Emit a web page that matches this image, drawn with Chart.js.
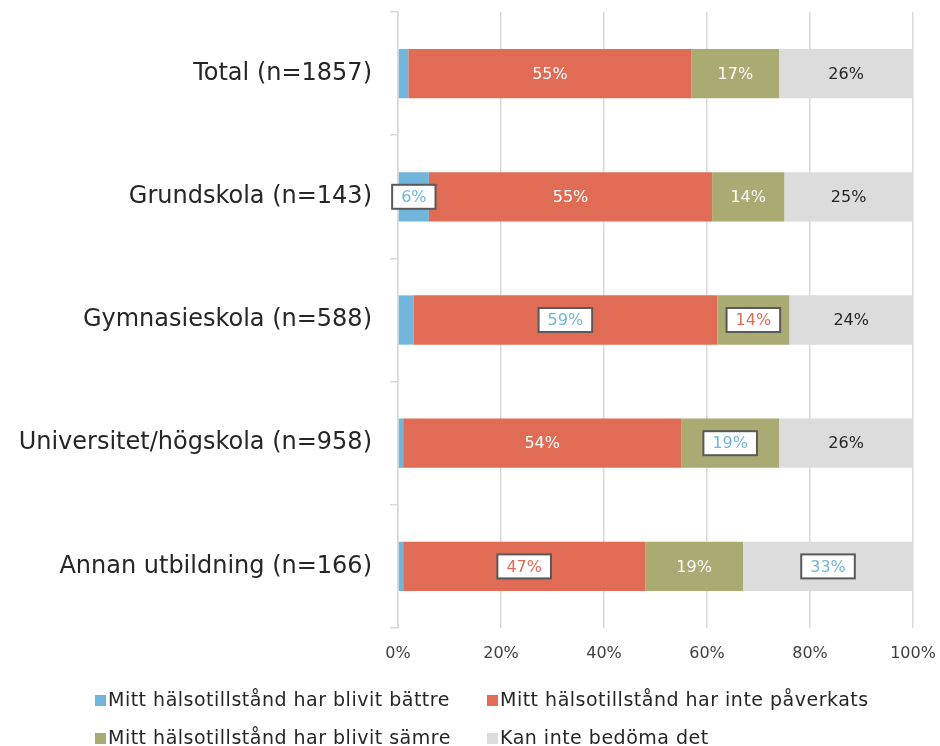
<!DOCTYPE html>
<html lang="sv">
<head>
<meta charset="utf-8">
<title>Hälsotillstånd per utbildning</title>
<script src="https://cdn.jsdelivr.net/npm/chart.js@4.4.1/dist/chart.umd.min.js"></script>
<style>
  html, body { margin: 0; padding: 0; background: #fff; }
  #wrap { width: 940px; height: 746px; position: relative; }
</style>
</head>
<body>
<div id="wrap"><canvas id="halsaChart"></canvas></div>
<script>
// --- Data ---
const categories = [
    'Total (n=1857)',
    'Grundskola (n=143)',
    'Gymnasieskola (n=588)',
    'Universitet/högskola (n=958)',
    'Annan utbildning (n=166)'
];
const seriesNames = [
    'Mitt hälsotillstånd har blivit bättre',
    'Mitt hälsotillstånd har inte påverkats',
    'Mitt hälsotillstånd har blivit sämre',
    'Kan inte bedöma det'
];
const battre = [2, 6, 3, 1, 1];
const intePaverkats = [55, 55, 59, 54, 47];
const samre = [17, 14, 14, 19, 19];
const kanInteBedoma = [26, 25, 24, 26, 33];
const xTicks = [0, 20, 40, 60, 80, 100];

// --- Stil ---
const FONT = '"DejaVu Sans", sans-serif';
const colors = ['#71B5DA', '#E06C56', '#AAAA73', '#DCDCDC'];
// etiketter med vit ruta (färg på texten), per serie och kategori
const BLUE_TXT = '#71B5DA', RED_TXT = '#E06C56';
const boxedLabels = [
    [null, BLUE_TXT, null, null, null],
    [null, null, BLUE_TXT, null, RED_TXT],
    [null, null, RED_TXT, BLUE_TXT, null],
    [null, null, null, null, BLUE_TXT]
];

const segmentLabels = {
    id: 'segmentLabels',
    afterDatasetsDraw(chart) {
        const ctx = chart.ctx;
        ctx.save();
        ctx.font = '16px ' + FONT;
        ctx.textAlign = 'center';
        ctx.textBaseline = 'middle';
        chart.data.datasets.forEach((ds, di) => {
            chart.getDatasetMeta(di).data.forEach((bar, i) => {
                const box = boxedLabels[di][i];
                if (di === 0 && !box) return; // små blå segment utan etikett
                const txt = ds.data[i] + '%';
                const x = (bar.x + bar.base) / 2;
                const y = bar.y;
                if (box) {
                    const w = ctx.measureText(txt).width + 18;
                    const h = 24;
                    ctx.fillStyle = '#fff';
                    ctx.fillRect(x - w / 2, y - h / 2, w, h);
                    ctx.strokeStyle = '#595959';
                    ctx.lineWidth = 2;
                    ctx.strokeRect(x - w / 2, y - h / 2, w, h);
                    ctx.fillStyle = box;
                } else {
                    ctx.fillStyle = di === 3 ? '#262626' : '#ffffff';
                }
                ctx.fillText(txt, x, y + 1);
            });
        });
        ctx.restore();
    }
};

// Legend i två kolumner, ritad för hand
const gridLegend = {
    id: 'gridLegend',
    afterDraw(chart) {
        const ctx = chart.ctx;
        const cols = [95, 487];
        const rows = [700, 738];
        ctx.save();
        ctx.font = '19px ' + FONT;
        ctx.letterSpacing = '0.5px';
        ctx.textBaseline = 'middle';
        chart.data.datasets.forEach((ds, i) => {
            const x = cols[i % 2];
            const y = rows[Math.floor(i / 2)];
            ctx.fillStyle = ds.backgroundColor;
            ctx.fillRect(x, y - 5, 11, 11);
            ctx.fillStyle = '#262626';
            ctx.fillText(ds.label, x + 13, y + 1);
        });
        ctx.restore();
    }
};

const seriesData = [battre, intePaverkats, samre, kanInteBedoma];

new Chart(document.getElementById('halsaChart'), {
    type: 'bar',
    data: {
        labels: categories,
        datasets: seriesData.map((d, i) => ({
            label: seriesNames[i],
            data: d,
            backgroundColor: colors[i],
            borderWidth: 0,
            barPercentage: 0.4,
            categoryPercentage: 1
        }))
    },
    options: {
        indexAxis: 'y',
        responsive: true,
        maintainAspectRatio: false,
        animation: false,
        layout: { padding: { top: 12, right: 27, bottom: 78, left: 0 } },
        scales: {
            x: {
                stacked: true,
                min: 0,
                max: 100,
                afterBuildTicks: (scale) => { scale.ticks = xTicks.map(v => ({ value: v })); },
                afterFit: (scale) => {
                    scale.height = 40;
                    scale.paddingLeft = 0;
                    scale.paddingRight = 0;
                },
                grid: { color: '#d9d9d9', lineWidth: 1.5, drawTicks: false },
                border: { display: false },
                ticks: {
                    padding: 16,
                    color: '#404040',
                    font: { family: FONT, size: 16 },
                    callback: (v) => v + '%'
                }
            },
            y: {
                stacked: true,
                afterFit: (scale) => {
                    scale.width = 398;
                    scale.paddingTop = 0;
                    scale.paddingBottom = 0;
                },
                grid: {
                    offset: true,
                    drawOnChartArea: false,
                    drawTicks: true,
                    tickLength: 8,
                    color: '#d9d9d9',
                    lineWidth: 1.5
                },
                border: { display: true, color: '#d9d9d9', width: 1.5 },
                ticks: {
                    padding: 18,
                    color: '#262626',
                    font: { family: FONT, size: 24 }
                }
            }
        },
        plugins: {
            legend: { display: false },
            tooltip: { enabled: false }
        }
    },
    plugins: [segmentLabels, gridLegend]
});
</script>
</body>
</html>
